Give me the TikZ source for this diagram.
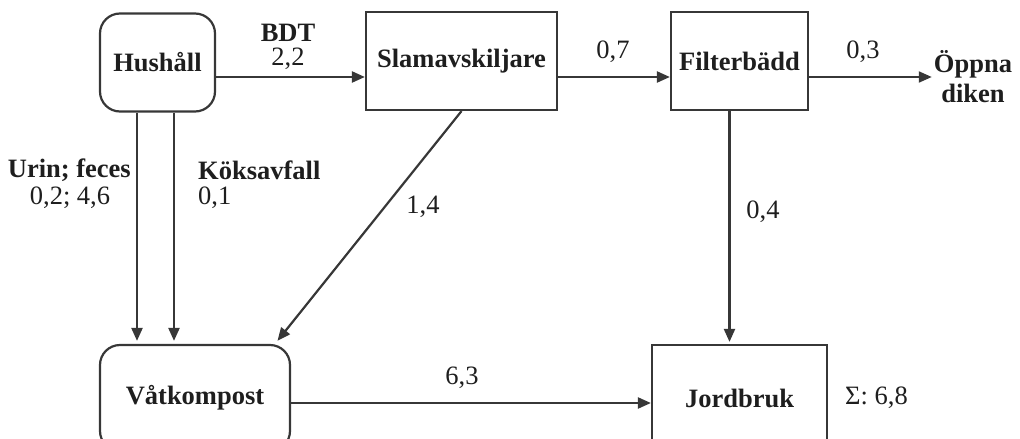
\documentclass[tikz,border=0pt]{standalone}
\usepackage{fontspec}
\setmainfont{Liberation Serif}
\usetikzlibrary{arrows.meta}
\definecolor{ln}{RGB}{55,55,55}
\definecolor{tx}{RGB}{30,30,30}
\tikzset{
  box/.style={draw=ln, line width=2.2pt, inner sep=0pt, font=\fontsize{26.5}{29}\selectfont\bfseries, text=tx},
  rbox/.style={box, rounded corners=20pt},
  flow/.style={draw=ln, line width=2.2pt, -{Triangle[length=13pt,width=11pt]}},
  lbl/.style={inner sep=0pt, font=\fontsize{26.5}{29}\selectfont, text=tx},
  blbl/.style={lbl, font=\fontsize{26.5}{29}\selectfont\bfseries},
}
\begin{document}
\begin{tikzpicture}[x=1pt,y=-1pt]
\useasboundingbox (0,0) rectangle (1020,439);
\node[rbox, minimum width=115pt, minimum height=98pt] (hus) at (157.5,62.5) {Hushåll};
\node[box, minimum width=191pt, minimum height=98pt] (slam) at (461.5,61) {Slamavskiljare};
\node[box, minimum width=137pt, minimum height=98pt] (filt) at (739.5,61) {Filterbädd};
\node[blbl, align=center, inner sep=2pt] (opp) at (973,77) {Öppna\\[1pt]diken};
\node[rbox, minimum width=190pt, minimum height=106pt] (vat) at (195,398) {Våtkompost};
\node[box, minimum width=175pt, minimum height=106pt] (jord) at (739.5,398) {Jordbruk};

\draw[flow] ([yshift=-14.5pt]hus.east) -- ([yshift=-14.5pt]hus.east -| slam.west);
\draw[flow] ([yshift=-16pt]slam.east) -- ([yshift=-16pt]slam.east -| filt.west);
\draw[flow] ([yshift=-16pt]filt.east) -- ([yshift=-16pt]filt.east -| opp.west);
\draw[flow, shorten >=3pt] ([xshift=-20.5pt]hus.south) -- ([xshift=-20.5pt]hus.south |- vat.north);
\draw[flow, shorten >=3pt] ([xshift=16.5pt]hus.south) -- ([xshift=16.5pt]hus.south |- vat.north);
\draw[flow, shorten >=4pt] (slam.south) -- ([xshift=80pt]vat.north);
\draw[flow, shorten >=2pt] ([xshift=-10pt]filt.south) -- ([xshift=-10pt]filt.south |- jord.north);
\draw[flow] ([yshift=-5pt]vat.east) -- ([yshift=-5pt]vat.east -| jord.west);

\node[blbl] (lbdt) at (288,33) {BDT};
\node[lbl] (l22) at (288,59) {2,2};
\node[lbl] (l07) at (613,52) {0,7};
\node[lbl] (l03) at (863,52) {0,3};
\node[blbl, anchor=east] (lurin) at (131,170) {Urin; feces};
\node[lbl] (l0246) at (70,198) {0,2; 4,6};
\node[blbl, anchor=west] (lkok) at (198,170) {Köksavfall};
\node[lbl, anchor=west] (l01) at (198,198) {0,1};
\node[lbl] (l14) at (423,207) {1,4};
\node[lbl] (l04) at (763,212) {0,4};
\node[lbl] (l63) at (462,378) {6,3};
\node[lbl, anchor=west] (lsum) at (845,398) {Σ: 6,8};
\end{tikzpicture}
\end{document}
